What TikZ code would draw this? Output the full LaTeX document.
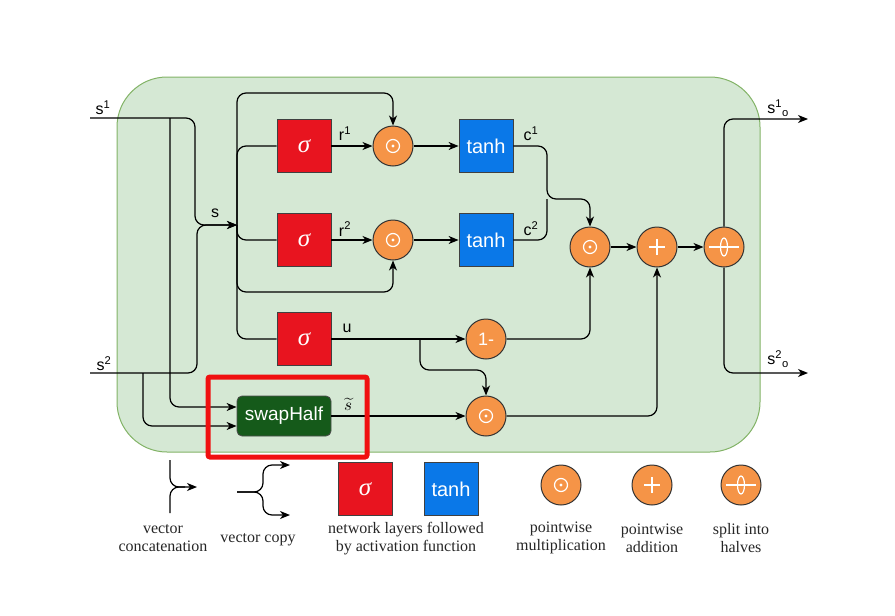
\documentclass[tikz,border=0pt]{standalone}
\usepackage{fontspec}
\setmainfont{Liberation Serif}
\setsansfont{Liberation Sans}
\usetikzlibrary{arrows.meta}
\definecolor{bgg}{HTML}{D5E8D4}
\definecolor{bgborder}{HTML}{82B366}
\definecolor{sigred}{HTML}{E8141F}
\definecolor{tanhblue}{HTML}{0A78E8}
\definecolor{opor}{HTML}{F59447}
\definecolor{swapg}{HTML}{155A1A}
\definecolor{hlred}{HTML}{F01010}
\newcommand\mkodot[1]{\draw[white,line width=1.2pt] (#1) circle (6.5pt); \fill[white] (#1) circle (1.7pt);}
\newcommand\mkplus[1]{\draw[white,line width=2.5pt] ([xshift=-8pt]#1.center) -- ([xshift=8pt]#1.center) ([yshift=-8pt]#1.center) -- ([yshift=8pt]#1.center);}
\newcommand\mksplit[1]{\draw[white,line width=1.2pt] ([xshift=-15pt]#1.center) -- ([xshift=15pt]#1.center); \draw[white,line width=1.2pt] (#1.center) ellipse (3.5pt and 9pt);}
\begin{document}
\begin{tikzpicture}[x=1pt,y=-1pt,
  line width=1.2pt,
  arr/.style={-{Stealth[length=10pt,width=8pt,inset=3pt]}},
  rc/.style={rounded corners=9pt},
  layer/.style={draw=black!75, line width=0.8pt, minimum width=54pt, minimum height=53pt, inner sep=0pt, text=white},
  sigbox/.style={layer, fill=sigred, font=\fontsize{25}{25}\selectfont\itshape},
  tanhbox/.style={layer, fill=tanhblue, font=\sffamily\fontsize{20}{20}\selectfont},
  op/.style={circle, draw=black!80, line width=1pt, fill=opor, minimum size=40pt, inner sep=0pt, text=white, font=\sffamily\fontsize{18}{18}\selectfont},
  swapbox/.style={draw=black!70, line width=0.8pt, fill=swapg, rounded corners=5pt, minimum width=94pt, minimum height=40pt, inner sep=0pt, text=white, font=\sffamily\fontsize{19}{19}\selectfont},
  lbl/.style={font=\sffamily\fontsize{16}{16}\selectfont, inner sep=0pt},
  leg/.style={font=\fontsize{16}{18}\selectfont, align=center, inner sep=0pt, text=black!85},
]
\useasboundingbox (0,0) rectangle (895,616);
% background
\node[draw=bgborder, fill=bgg, line width=1pt, rounded corners=50pt, minimum width=643pt, minimum height=375pt, inner sep=0pt] (bg) at (438.5,264.5) {};

% nodes
\node[sigbox] (sig1) at (304,146) {σ};
\node[sigbox] (sig2) at (304,240) {σ};
\node[sigbox] (sig3) at (304,339) {σ};
\node[op] (m1) at (393,146) {};
\node[op] (m2) at (393,240) {};
\node[tanhbox] (t1) at (486,146) {tanh};
\node[tanhbox] (t2) at (486,240) {tanh};
\node[op] (m3) at (590,247) {};
\node[op] (pl) at (657,247) {};
\node[op] (sp) at (724,247) {};
\node[op] (om) at (486,339) {1-};
\node[op] (m4) at (486,416) {};
\node[swapbox] (sw) at (284,416) {swapHalf};
\mkodot{m1} \mkodot{m2} \mkodot{m3} \mkodot{m4}
\mkplus{pl} \mksplit{sp}

% coordinates
\coordinate (s1in) at (90,118);
\coordinate (s2in) at (90,373);
\coordinate (s1j) at (195,118);
\coordinate (s2j) at (197,373);
\coordinate (c1x) at (170,118);
\coordinate (c2x) at (143,373);
\coordinate (sbus) at (237,225);
\coordinate (bustop) at (237,93);
\coordinate (loopb) at (393,292);
\coordinate (cj) at (547,199);
\coordinate (o1) at (808,119);
\coordinate (o2) at (808,373);
\coordinate (ub) at (420,339);
\coordinate (ud) at (420,370);

% connectors
\draw[arr,rc] (s1in) -- (s1j) |- (sbus);
\draw[arr,rc] (s2in) -- (s2j) |- (sbus);
\draw[arr,rc] (c1x) |- ([yshift=9pt]sw.west);
\draw[arr,rc] (c2x) |- ([yshift=-10pt]sw.west);
\draw[arr,rc] (sig3.west) -| (bustop) -| (m1.north);
\draw[rc] (sbus) |- (sig1.west);
\draw[rc] (sbus) |- (sig2.west);
\draw[arr,rc] (sbus) |- (loopb) -- (m2.south);
\draw[arr] (sig1) -- (m1);
\draw[arr] (sig2) -- (m2);
\draw[arr] (m1) -- (t1);
\draw[arr] (m2) -- (t2);
\draw[arr,rc] (t1.east) -| (cj) -| (m3.north);
\draw[rc] (t2.east) -| (cj);
\draw[arr] (m3) -- (pl);
\draw[arr] (pl) -- (sp);
\draw[arr,rc] (sp.north) |- (o1);
\draw[arr,rc] (sp.south) |- (o2);
\draw[arr] (sig3) -- (om);
\draw[arr,rc] (om.east) -| (m3.south);
\draw[arr,rc] (ub) -- (ud) -| (m4.north);
\draw[arr] (sw) -- (m4);
\draw[arr,rc] (m4.east) -| (pl.south);

% labels
\node[lbl] (ls1) at (103,108) {s\textsuperscript{1}};
\node[lbl] (ls2) at (104,364) {s\textsuperscript{2}};
\node[lbl] (lss) at (215,213) {s};
\node[lbl] (lr1) at (345,134) {r\textsuperscript{1}};
\node[lbl] (lr2) at (345,229) {r\textsuperscript{2}};
\node[lbl] (lc1) at (531,134) {c\textsuperscript{1}};
\node[lbl] (lc2) at (531,229) {c\textsuperscript{2}};
\node[lbl] (lu) at (347,328) {u};
\node[inner sep=0pt, scale=1.7] (lst) at (348,404) {$\widetilde{s}$};
\node[lbl] (lo1) at (778,108) {s\textsuperscript{1}\textsubscript{o}};
\node[lbl] (lo2) at (778,359) {s\textsuperscript{2}\textsubscript{o}};

% highlight
\node[draw=hlred, line width=5pt, rounded corners=2pt, minimum width=159pt, minimum height=80pt, inner sep=0pt] (hl) at (287.5,417) {};

% legend
\coordinate (cct) at (170,460);
\coordinate (ccb) at (170,513);
\coordinate (ccm) at (170,487);
\coordinate (cce) at (197,487);
\coordinate (ccj) at (185,487);
\draw[arr,rc] (cct) -- (ccm) -- (cce);
\draw[rc] (ccb) -- (ccm) -- (ccj);
\coordinate (cps) at (237,492);
\coordinate (cpm) at (263,492);
\coordinate (cpt) at (290,465);
\coordinate (cpb) at (290,515);
\draw[arr,rc] (cps) -- (cpm) |- (cpt);
\draw[arr,rc] (cps) -- (cpm) |- (cpb);
\node[sigbox] (lsig) at (365,489) {σ};
\node[tanhbox] (ltanh) at (451,489) {tanh};
\node[op] (lm) at (561,485) {};
\node[op] (lp) at (652,485) {};
\node[op] (lsp) at (741,485) {};
\mkodot{lm} \mkplus{lp} \mksplit{lsp}
\node[leg] (tx1) at (163,538) {vector\\concatenation};
\node[leg] (tx2) at (258,540) {vector copy};
\node[leg] (tx3) at (406,539) {network layers followed\\by activation function};
\node[leg] (tx4) at (561,538) {pointwise\\multiplication};
\node[leg] (tx5) at (652,538) {pointwise\\addition};
\node[leg] (tx6) at (741,538) {split into\\halves};
\end{tikzpicture}
\end{document}
